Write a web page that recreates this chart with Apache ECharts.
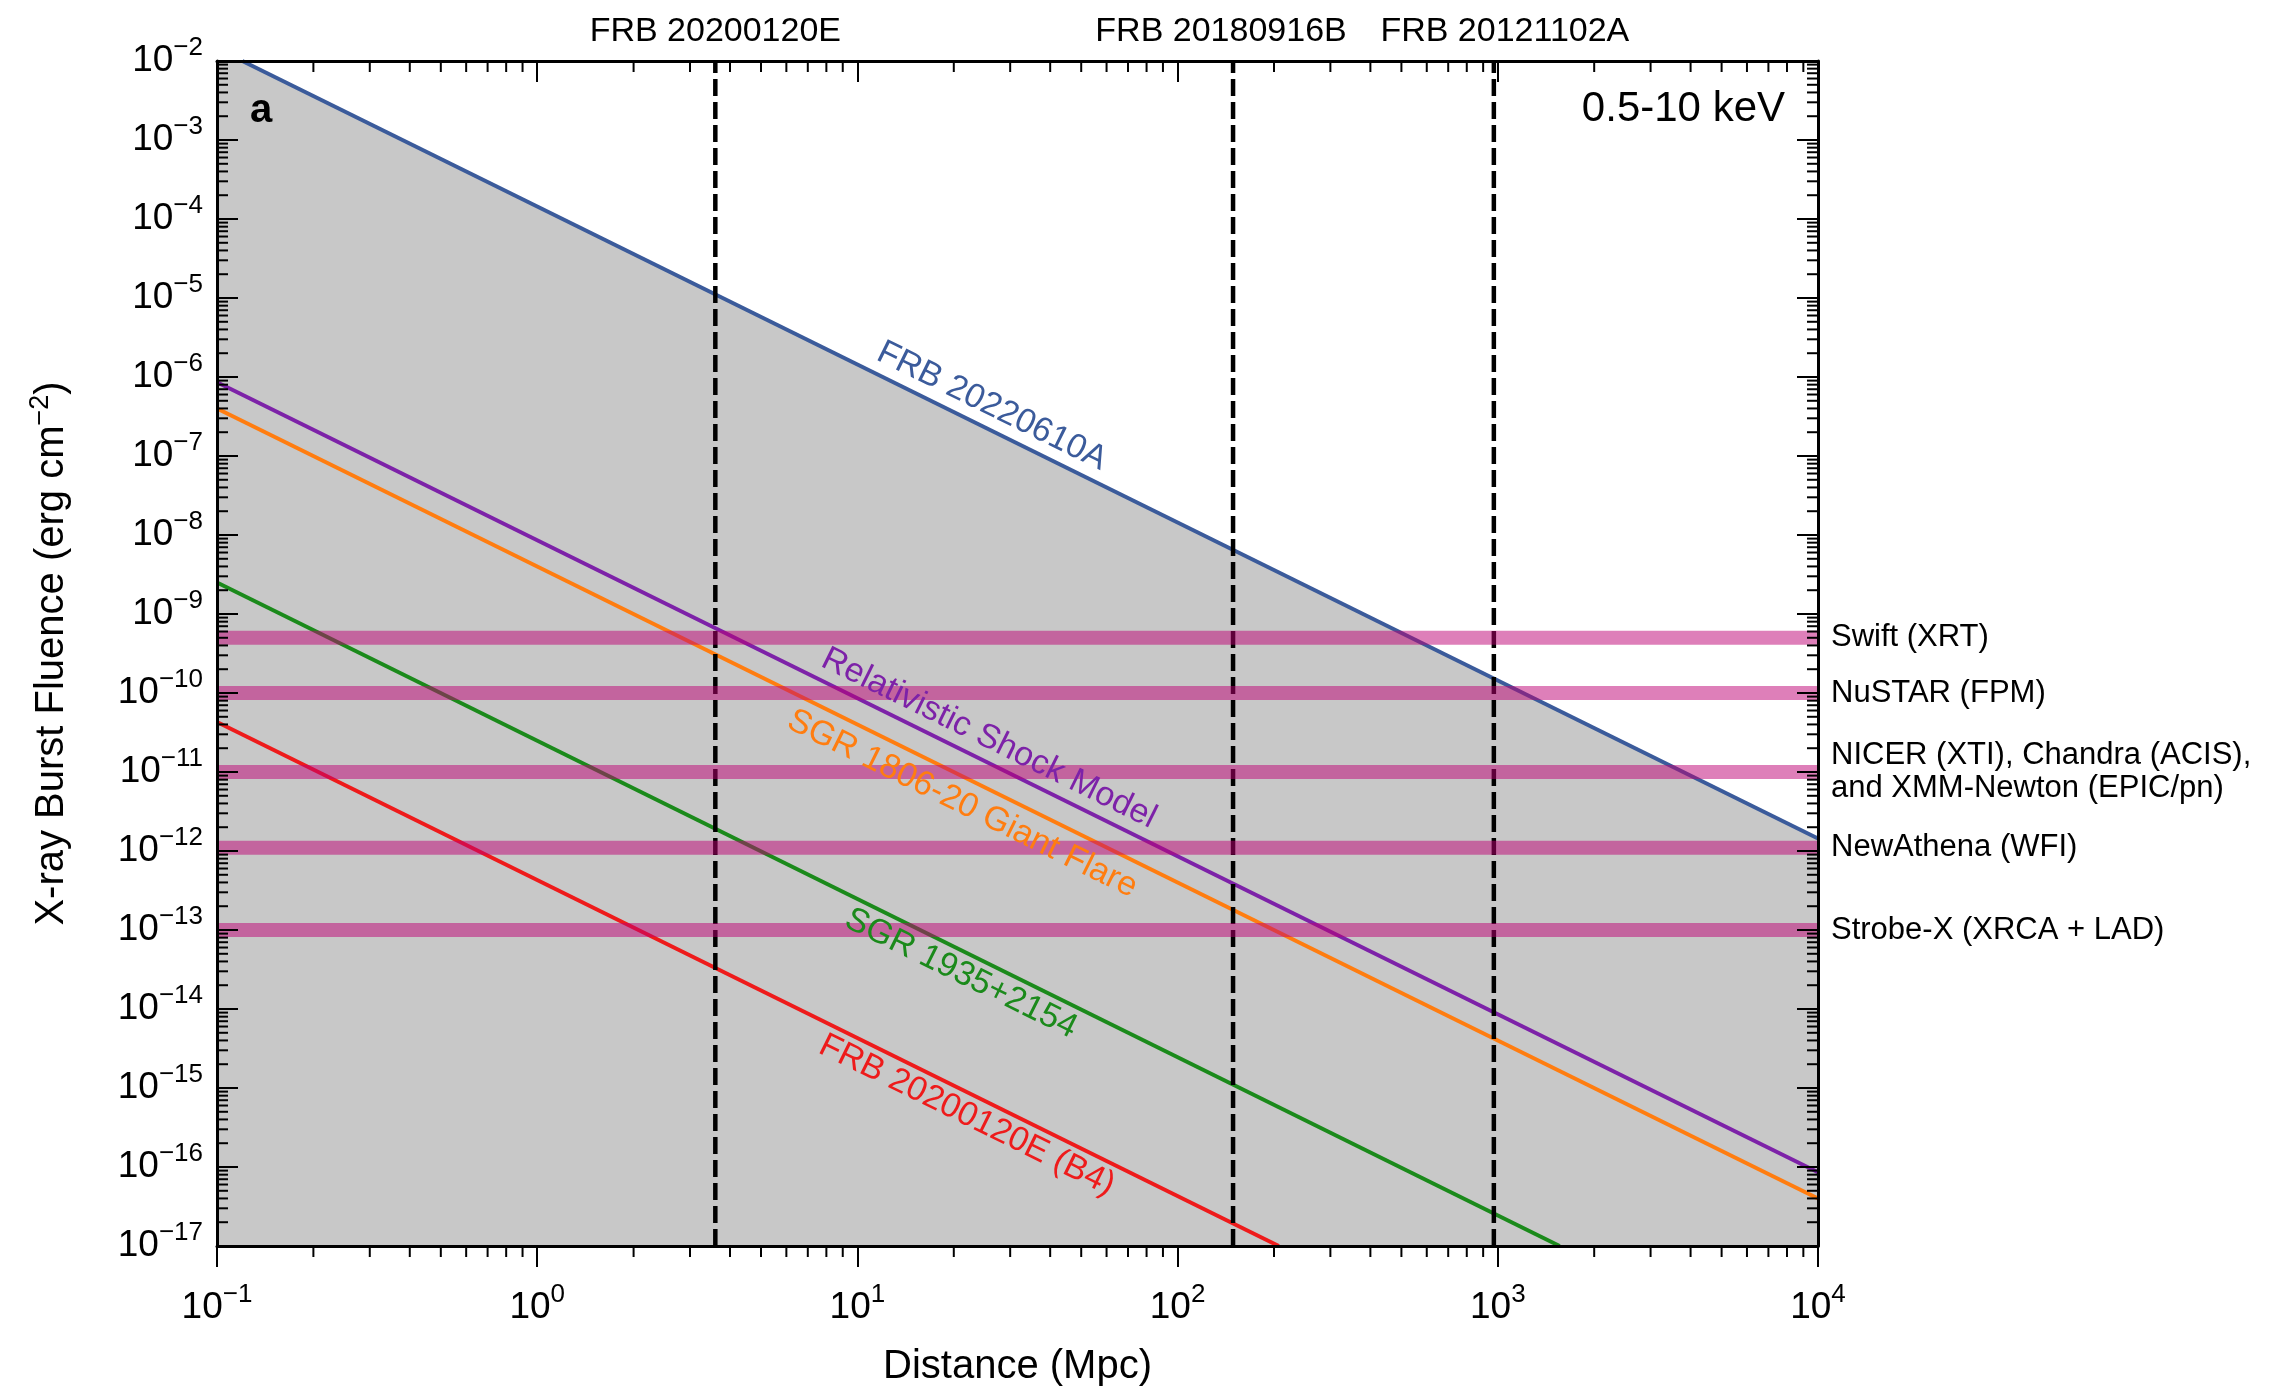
<!DOCTYPE html>
<html><head><meta charset="utf-8">
<script src="https://cdn.jsdelivr.net/npm/echarts@6/dist/echarts.min.js"></script>
<style>html,body{margin:0;padding:0;background:#fff}#c{width:2269px;height:1392px}</style>
</head><body><div id="c"></div><script>
const FONT = '"Liberation Sans", Arial, Helvetica, sans-serif';
// axis ranges
const xRange = [0.1, 1e4];
const yRange = [1e-17, 1e-2];
// model lines: [distance (Mpc), fluence (erg cm^-2)]
const frb20220610A = [[0.12, 1e-2], [1e4, 1.44e-12]];
const shockModel = [[0.1, 8.6e-7], [1e4, 8.6e-17]];
const sgr1806 = [[0.1, 4e-7], [1e4, 4e-17]];
const sgr1935 = [[0.1, 2.5e-9], [1560, 1e-17]];
const frb20200120E_B4 = [[0.1, 4.3e-11], [207, 1e-17]];
// FRB source distances (Mpc)
const frbNames = ['FRB 20200120E', 'FRB 20180916B', 'FRB 20121102A'];
const frbDistances = [3.6, 149, 972];
// instrument sensitivities
const instrumentNames = ['Swift (XRT)', 'NuSTAR (FPM)', 'NICER (XTI), Chandra (ACIS),\nand XMM-Newton (EPIC/pn)', 'NewAthena (WFI)', 'Strobe-X (XRCA + LAD)'];
const instrumentFluence = [5e-10, 1e-10, 1e-11, 1.1e-12, 1e-13];

const C = {blue:'#3b5b9b', purple:'#7d22a8', orange:'#ff7d10', green:'#1b8a1b', red:'#ee1b1b', gray:'#c8c8c8', band:'rgba(190,0,115,0.5)', text:'#000'};

function minorTicks(lo, hi) {
  const out = [];
  for (let e = Math.round(Math.log10(lo)); e < Math.round(Math.log10(hi)); e++)
    for (let m = 2; m <= 9; m++) out.push(m * Math.pow(10, e));
  return out;
}
const xMinor = minorTicks(xRange[0], xRange[1]);
const yMinor = minorTicks(yRange[0], yRange[1]);

function powLabel(v) {
  const e = Math.round(Math.log10(v));
  return '{b|10}{s|' + (e < 0 ? '\u2212' + (-e) : e) + '}';
}
const richTicks = {
  b: {fontSize: 37, lineHeight: 52, fontFamily: FONT, color: C.text},
  s: {fontSize: 26, lineHeight: 26, verticalAlign: 'top', fontFamily: FONT, color: C.text}
};
const axisLineStyle = {show: true, lineStyle: {color: '#000', width: 3}};
const tickStyle = {color: '#000', width: 2};

function lineSeries(data, color) {
  return {type: 'line', data: data, symbol: 'none', z: 3, silent: true,
    lineStyle: {color: color, width: 4}};
}

const series = [
  { // shaded region below FRB 20220610A
    type: 'custom', z: 1, silent: true, data: [[1, 1e-5]],
    renderItem: function (params, api) {
      const pts = [
        api.coord([xRange[0], yRange[1]]),
        api.coord(frb20220610A[0]),
        api.coord(frb20220610A[1]),
        api.coord([xRange[1], yRange[0]]),
        api.coord([xRange[0], yRange[0]])
      ];
      return {type: 'polygon', shape: {points: pts}, style: {fill: C.gray}};
    }
  },
  lineSeries(frb20220610A, C.blue),
  lineSeries(shockModel, C.purple),
  lineSeries(sgr1806, C.orange),
  lineSeries(sgr1935, C.green),
  lineSeries(frb20200120E_B4, C.red)
];
frbDistances.forEach(function (d) {
  series.push({type: 'line', z: 4, silent: true, symbol: 'none',
    data: [[d, yRange[0]], [d, yRange[1]]],
    lineStyle: {color: '#000', width: 4.5, type: [17, 6]}});
});
instrumentNames.forEach(function (n, i) {
  series.push({type: 'line', z: 5, silent: true, symbol: 'none', name: n,
    data: [[xRange[0], instrumentFluence[i]], [xRange[1], instrumentFluence[i]]],
    lineStyle: {color: C.band, width: 14, cap: 'butt'},
    endLabel: {show: true, formatter: function () { return n; }, color: C.text,
      fontSize: 31, lineHeight: 33, fontFamily: FONT, distance: 13}
  });
});
// minor ticks (2..9 x 10^k), drawn through the axes' own scales
series.push({type: 'custom', z: 20, silent: true, clip: false,
  data: xMinor.map(function (v) { return [v, yRange[0]]; }),
  renderItem: function (params, api) {
    const v = api.value(0);
    const b = api.coord([v, yRange[0]]), t = api.coord([v, yRange[1]]);
    return {type: 'group', children: [
      {type: 'line', shape: {x1: b[0], y1: b[1], x2: b[0], y2: b[1] + 11}, style: {stroke: '#000', lineWidth: 2}},
      {type: 'line', shape: {x1: t[0], y1: t[1], x2: t[0], y2: t[1] + 11}, style: {stroke: '#000', lineWidth: 2}}
    ]};
  }
});
series.push({type: 'custom', z: 20, silent: true, clip: false,
  data: yMinor.map(function (v) { return [xRange[0], v]; }),
  renderItem: function (params, api) {
    const v = api.value(1);
    const l = api.coord([xRange[0], v]), r = api.coord([xRange[1], v]);
    return {type: 'group', children: [
      {type: 'line', shape: {x1: l[0], y1: l[1], x2: l[0] + 11, y2: l[1]}, style: {stroke: '#000', lineWidth: 2}},
      {type: 'line', shape: {x1: r[0], y1: r[1], x2: r[0] - 11, y2: r[1]}, style: {stroke: '#000', lineWidth: 2}}
    ]};
  }
});

const option = {
  animation: false,
  backgroundColor: '#fff',
  grid: {left: 217, right: 451, top: 61, bottom: 141, containLabel: false},
  xAxis: [
    {type: 'log', logBase: 10, min: xRange[0], max: xRange[1], position: 'bottom', z: 10,
      splitLine: {show: false}, axisLine: axisLineStyle,
      axisTick: {show: true, inside: false, length: 21, lineStyle: tickStyle},
      axisLabel: {show: true, margin: 36, formatter: powLabel, rich: richTicks},
      name: 'Distance (Mpc)', nameLocation: 'middle', nameGap: 101,
      nameTextStyle: {fontSize: 40, fontFamily: FONT, color: C.text}},
    {type: 'log', logBase: 10, min: xRange[0], max: xRange[1], position: 'top', z: 10,
      splitLine: {show: false}, axisLine: axisLineStyle,
      axisTick: {show: true, inside: true, length: 21, lineStyle: tickStyle},
      axisLabel: {show: false}}
  ],
  yAxis: [
    {type: 'log', logBase: 10, min: yRange[0], max: yRange[1], interval: 1, splitNumber: 15, position: 'left', z: 10,
      splitLine: {show: false}, axisLine: axisLineStyle,
      axisTick: {show: true, inside: true, length: 21, lineStyle: tickStyle},
      axisLabel: {show: true, margin: 14, formatter: powLabel, rich: richTicks},
      name: '{a|X-ray Burst Fluence (erg cm}{s|\u22122}{a|)}', nameLocation: 'middle', nameGap: 140, nameRotate: 90,
      nameTextStyle: {rich: {
        a: {fontSize: 40, lineHeight: 50, fontFamily: FONT, color: C.text},
        s: {fontSize: 27, lineHeight: 27, verticalAlign: 'top', fontFamily: FONT, color: C.text}}}},
    {type: 'log', logBase: 10, min: yRange[0], max: yRange[1], interval: 1, splitNumber: 15, position: 'right', z: 10,
      splitLine: {show: false}, axisLine: axisLineStyle,
      axisTick: {show: true, inside: true, length: 21, lineStyle: tickStyle},
      axisLabel: {show: false}}
  ],
  series: series
};

const chart = echarts.init(document.getElementById('c'), null, {renderer: 'canvas'});
chart.setOption(option);

const lineLabels = [
  {text: 'FRB 20220610A', line: frb20220610A, color: C.blue, at: 24.5, side: 1, gap: 22},
  {text: 'Relativistic Shock Model', line: shockModel, color: C.purple, at: 24, side: 1, gap: 22},
  {text: 'SGR 1806-20 Giant Flare', line: sgr1806, color: C.orange, at: 23, side: -1, gap: 25},
  {text: 'SGR 1935+2154', line: sgr1935, color: C.green, at: 22.5, side: -1, gap: 21},
  {text: 'FRB 20200120E (B4)', line: frb20200120E_B4, color: C.red, at: 23.5, side: -1, gap: 21}
];
const graphics = [
  {type: 'text', x: 250, y: 111, z: 30, style: {text: 'a', font: 'bold 40px ' + FONT, fill: C.text,
    align: 'left', verticalAlign: 'middle', textAlign: 'left', textVerticalAlign: 'middle'}},
  {type: 'text', x: 1785, y: 109, z: 30, style: {text: '0.5-10 keV', font: '42px ' + FONT, fill: C.text,
    align: 'right', verticalAlign: 'middle', textAlign: 'right', textVerticalAlign: 'middle'}}
];
// FRB names above the top axis, centred on their distance lines
const frbShift = [0, -12, 11];
frbDistances.forEach(function (d, i) {
  const p = chart.convertToPixel({gridIndex: 0}, [d, yRange[1]]);
  graphics.push({type: 'text', x: p[0] + frbShift[i], y: p[1] - 12, z: 30,
    style: {text: frbNames[i], font: '34px ' + FONT, fill: C.text,
      align: 'center', verticalAlign: 'bottom', textAlign: 'center', textVerticalAlign: 'bottom'}});
});
lineLabels.forEach(function (L) {
  const p0 = chart.convertToPixel({gridIndex: 0}, L.line[0]);
  const p1 = chart.convertToPixel({gridIndex: 0}, L.line[1]);
  const px = chart.convertToPixel({xAxisIndex: 0}, L.at);
  const t = (px - p0[0]) / (p1[0] - p0[0]);
  const py = p0[1] + t * (p1[1] - p0[1]);
  const a = Math.atan2(p1[1] - p0[1], p1[0] - p0[0]);
  const nx = Math.sin(a), ny = -Math.cos(a);
  graphics.push({type: 'text', x: px + L.side * L.gap * nx, y: py + L.side * L.gap * ny, rotation: -a, z: 30,
    style: {text: L.text, font: '34px ' + FONT, fill: L.color,
      align: 'center', verticalAlign: 'middle', textAlign: 'center', textVerticalAlign: 'middle'}});
});
chart.setOption({graphic: graphics});
</script></body></html>
